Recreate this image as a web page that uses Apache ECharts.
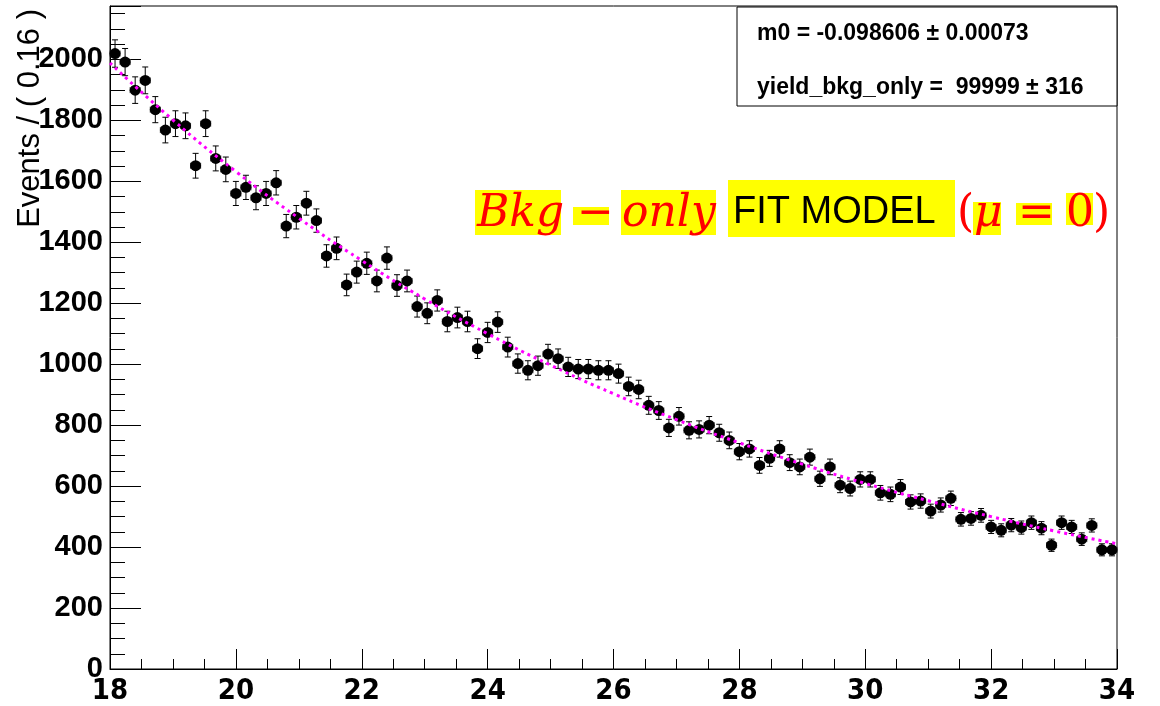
<!DOCTYPE html>
<html>
<head>
<meta charset="utf-8">
<script src="https://cdn.jsdelivr.net/npm/echarts@6/dist/echarts.min.js"></script>
<style>
  html, body { margin: 0; padding: 0; background: #fff; }
  #chart { width: 1160px; height: 706px; }
</style>
</head>
<body>
<div id="chart"></div>
<script>
// histogram: 100 bins of 0.16 from 18 to 34
var binLow = 18;
var binWidth = 0.16;
var counts = [
  2019, 1991, 1899, 1931, 1835, 1768, 1789, 1782, 1651, 1789,
  1675, 1639, 1560, 1580, 1546, 1560, 1595, 1453, 1482, 1528,
  1471, 1355, 1380, 1260, 1302, 1331, 1273, 1348, 1258, 1273,
  1189, 1167, 1209, 1140, 1153, 1140, 1051, 1104, 1138, 1056,
  1002, 980, 995, 1033, 1018, 991, 984, 984, 980, 980,
  969, 927, 917, 865, 848, 791, 829, 783, 786, 800,
  775, 750, 713, 722, 668, 691, 722, 677, 663, 695,
  624, 663, 603, 592, 622, 622, 578, 573, 597, 548,
  551, 518, 538, 560, 491, 494, 504, 466, 455, 472,
  464, 480, 462, 406, 480, 466, 426, 471, 391, 391
];

// fit curve, read at whole x values
var fitX = [18, 19, 20, 21, 22, 23, 24, 25, 26, 27, 28, 29, 30, 31, 32, 33, 34];
var fitY = [1988, 1801, 1632, 1479, 1340, 1214, 1100, 997, 903, 818, 742, 672, 609, 552, 500, 453, 411];

var statLines = ["m0 = -0.098606 \u00b1 0.00073", "yield_bkg_only =  99999 \u00b1 316"];

var points = counts.map(function (c, i) {
  return [binLow + binWidth * (i + 0.5), c, Math.sqrt(c)];
});
var fitData = fitX.map(function (x, i) { return [x, fitY[i]]; });

var serif = "'DejaVu Serif', 'Liberation Serif', serif";
var red = "#ff0000";
var yellow = "#ffff00";

function errorBar(params, api) {
  var x = api.value(0), y = api.value(1), e = api.value(2);
  var top = api.coord([x, y + e]);
  var bot = api.coord([x, y - e]);
  var l = api.coord([x - binWidth / 2, y]);
  var r = api.coord([x + binWidth / 2, y]);
  var st = { stroke: "#000", lineWidth: 1 };
  var st2 = { stroke: "#444", lineWidth: 1 };
  return {
    type: "group",
    children: [
      { type: "line", shape: { x1: top[0], y1: top[1], x2: bot[0], y2: bot[1] }, style: st },
      { type: "line", shape: { x1: top[0] - 3, y1: top[1], x2: top[0] + 3, y2: top[1] }, style: st },
      { type: "line", shape: { x1: bot[0] - 3, y1: bot[1], x2: bot[0] + 3, y2: bot[1] }, style: st },
      { type: "line", shape: { x1: l[0], y1: l[1], x2: r[0], y2: r[1] }, style: st2 },
      { type: "line", shape: { x1: l[0], y1: l[1] - 3, x2: l[0], y2: l[1] + 3 }, style: st2 },
      { type: "line", shape: { x1: r[0], y1: r[1] - 3, x2: r[0], y2: r[1] + 3 }, style: st2 }
    ]
  };
}

// yellow highlight + text pieces of the annotation
function mark(x, y, w, h) {
  return { type: "rect", shape: { x: x, y: y, width: w, height: h }, style: { fill: yellow }, z: 10 };
}
function word(text, x, y, font, color) {
  return {
    type: "text", x: x, y: y, z: 11,
    style: { text: text, font: font, fill: color, textAlign: "left", textVerticalAlign: "middle" }
  };
}

var myChart = echarts.init(document.getElementById("chart"));
myChart.setOption({
  animation: false,
  backgroundColor: "#fff",
  grid: {
    left: 110, right: 43, top: 6, bottom: 36,
    show: true, borderColor: "#000", borderWidth: 1
  },
  xAxis: {
    type: "value",
    min: 18, max: 34, interval: 2,
    axisLine: { show: true, onZero: false, lineStyle: { color: "#000", width: 1 } },
    axisTick: { show: true, inside: true, length: 20, lineStyle: { color: "#000" } },
    minorTick: { show: true, splitNumber: 4, length: 10, lineStyle: { color: "#000" } },
    splitLine: { show: false },
    axisLabel: {
      margin: 8, color: "#000", fontWeight: "bold", fontSize: 29,
      fontFamily: "'Liberation Sans Narrow', 'DejaVu Sans Condensed', 'Liberation Sans', sans-serif",
      showMinLabel: true, showMaxLabel: true
    }
  },
  yAxis: {
    type: "value",
    min: 0, max: 2175, interval: 200,
    axisLine: { show: true, lineStyle: { color: "#000", width: 1 } },
    axisTick: { show: true, inside: true, length: 31, lineStyle: { color: "#000" } },
    minorTick: { show: true, splitNumber: 4, length: 15, lineStyle: { color: "#000" } },
    splitLine: { show: false },
    axisLabel: {
      margin: 7, color: "#000", fontWeight: "bold", fontSize: 29,
      fontFamily: "'Liberation Sans', Arial, sans-serif",
      showMaxLabel: false,
      formatter: function (v) { return String(v); }
    }
  },
  graphic: [
    // y axis title
    {
      type: "text", x: 30, y: 9, rotation: Math.PI / 2,
      style: {
        text: "Events / ( 0.16 )", font: "31px 'Liberation Sans', Arial, sans-serif",
        fill: "#000", textAlign: "right", textVerticalAlign: "middle"
      }
    },
    // stats box
    {
      type: "rect", shape: { x: 737, y: 7, width: 380, height: 99 },
      style: { fill: "#fff", stroke: "#000", lineWidth: 1 }, z: 10
    },
    word(statLines[0], 757, 34, "bold 23px 'Liberation Sans', Arial, sans-serif", "#000"),
    word(statLines[1], 757, 88, "bold 23px 'Liberation Sans', Arial, sans-serif", "#000"),
    // annotation
    mark(475, 190, 86, 45),
    mark(573, 207, 36, 18),
    mark(621, 190, 95, 45),
    mark(728, 180, 227, 57),
    mark(973, 202, 28, 33),
    mark(1016, 203, 36, 22),
    mark(1066, 193, 27, 32),
    word("Bkg", 477, 215, "italic 44px " + serif, red),
    word("\u2212", 577, 215, "44px " + serif, red),
    word("only", 622, 215, "italic 44px " + serif, red),
    word("FIT MODEL", 733, 213, "38px 'Liberation Sans', 'Open Sans', sans-serif", "#000"),
    word("(", 957, 215, "44px " + serif, red),
    word("\u03bc", 974, 215, "italic 44px " + serif, red),
    word("=", 1018, 215, "44px " + serif, red),
    word("0", 1066, 215, "44px " + serif, red),
    word(")", 1093, 215, "44px " + serif, red)
  ],
  series: [
    {
      type: "custom",
      renderItem: errorBar,
      data: points,
      z: 2
    },
    {
      type: "scatter",
      data: points,
      symbol: "circle",
      symbolSize: 11,
      itemStyle: { color: "#000", opacity: 1 },
      z: 3
    },
    {
      type: "line",
      data: fitData,
      smooth: true,
      showSymbol: false,
      lineStyle: { color: "#ff00ff", width: 3, type: [3, 4] },
      z: 4
    }
  ]
});
</script>
</body>
</html>
